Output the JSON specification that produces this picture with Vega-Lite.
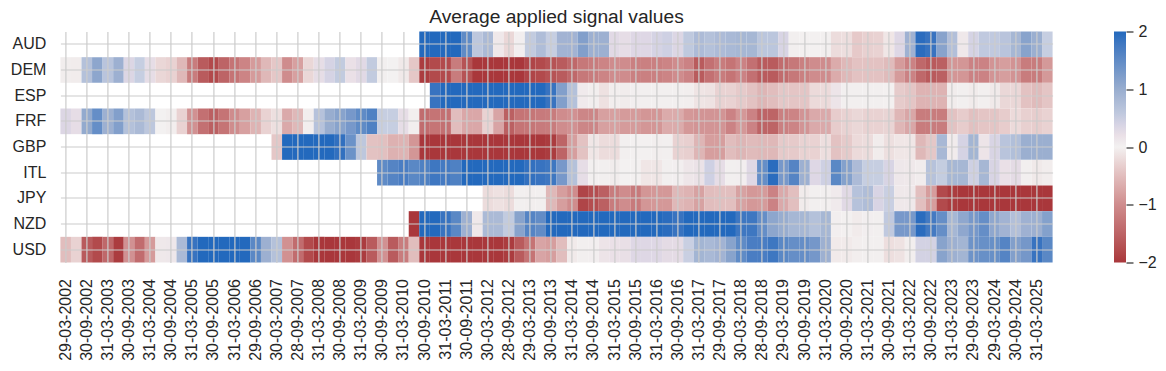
{
"$schema":"https://vega.github.io/schema/vega-lite/v6.json",
"width":992.2,"height":231,"autosize":"none",
"padding":{"left":60.4,"top":31.5,"right":113.4,"bottom":108.5},
"background":"white",
"config":{"view":{"stroke":null},"font":"Liberation Sans","legend":{"gradientVerticalMaxLength":400}},
"title":{"text":"Average applied signal values","fontSize":19.2,"fontWeight":"normal","color":"#262626","font":"Liberation Sans","anchor":"middle","frame":"group","baseline":"alphabetic","offset":7.5,"dy":26},
"data":{"values":[
{"d":"30-09-2010","c":"AUD","v":2},{"d":"31-12-2010","c":"AUD","v":2},{"d":"31-03-2011","c":"AUD","v":2},{"d":"30-06-2011","c":"AUD","v":2},{"d":"30-09-2011","c":"AUD","v":1.5},{"d":"30-12-2011","c":"AUD","v":0.6},{"d":"30-03-2012","c":"AUD","v":0.8},{"d":"29-06-2012","c":"AUD","v":0.1},{"d":"28-09-2012","c":"AUD","v":-0.25},{"d":"31-12-2012","c":"AUD","v":0.03},{"d":"29-03-2013","c":"AUD","v":0.55},{"d":"28-06-2013","c":"AUD","v":0.75},{"d":"30-09-2013","c":"AUD","v":0.5},{"d":"31-12-2013","c":"AUD","v":0.9},{"d":"31-03-2014","c":"AUD","v":0.9},{"d":"30-06-2014","c":"AUD","v":1.2},{"d":"30-09-2014","c":"AUD","v":0.95},{"d":"31-12-2014","c":"AUD","v":0.95},{"d":"31-03-2015","c":"AUD","v":0.3},{"d":"30-06-2015","c":"AUD","v":0.25},{"d":"30-09-2015","c":"AUD","v":0.33},{"d":"31-12-2015","c":"AUD","v":0.33},{"d":"31-03-2016","c":"AUD","v":0.4},{"d":"30-06-2016","c":"AUD","v":0.45},{"d":"30-09-2016","c":"AUD","v":0.35},{"d":"30-12-2016","c":"AUD","v":0.58},{"d":"31-03-2017","c":"AUD","v":0.78},{"d":"30-06-2017","c":"AUD","v":0.7},{"d":"29-09-2017","c":"AUD","v":0.78},{"d":"29-12-2017","c":"AUD","v":0.82},{"d":"30-03-2018","c":"AUD","v":0.85},{"d":"29-06-2018","c":"AUD","v":0.85},{"d":"28-09-2018","c":"AUD","v":0.62},{"d":"31-12-2018","c":"AUD","v":0.62},{"d":"29-03-2019","c":"AUD","v":0.38},{"d":"28-06-2019","c":"AUD","v":0.02},{"d":"30-09-2019","c":"AUD","v":-0.01},{"d":"31-12-2019","c":"AUD","v":-0.01},{"d":"31-03-2020","c":"AUD","v":-0.02},{"d":"30-06-2020","c":"AUD","v":-0.2},{"d":"30-09-2020","c":"AUD","v":-0.18},{"d":"31-12-2020","c":"AUD","v":-0.38},{"d":"31-03-2021","c":"AUD","v":-0.32},{"d":"30-06-2021","c":"AUD","v":-0.3},{"d":"30-09-2021","c":"AUD","v":-0.1},{"d":"31-12-2021","c":"AUD","v":0.33},{"d":"31-03-2022","c":"AUD","v":0.93},{"d":"30-06-2022","c":"AUD","v":1.95},{"d":"30-09-2022","c":"AUD","v":1.85},{"d":"30-12-2022","c":"AUD","v":1.15},{"d":"31-03-2023","c":"AUD","v":0.72},{"d":"30-06-2023","c":"AUD","v":0.1},{"d":"29-09-2023","c":"AUD","v":0.4},{"d":"29-12-2023","c":"AUD","v":0.57},{"d":"29-03-2024","c":"AUD","v":0.57},{"d":"28-06-2024","c":"AUD","v":0.65},{"d":"30-09-2024","c":"AUD","v":0.85},{"d":"31-12-2024","c":"AUD","v":1.15},{"d":"31-03-2025","c":"AUD","v":0.97},{"d":"30-06-2025","c":"AUD","v":0.5},
{"d":"29-03-2002","c":"DEM","v":0.05},{"d":"28-06-2002","c":"DEM","v":-0.05},{"d":"30-09-2002","c":"DEM","v":0.7},{"d":"31-12-2002","c":"DEM","v":1.1},{"d":"31-03-2003","c":"DEM","v":0.65},{"d":"30-06-2003","c":"DEM","v":0.95},{"d":"30-09-2003","c":"DEM","v":0.35},{"d":"31-12-2003","c":"DEM","v":0.5},{"d":"31-03-2004","c":"DEM","v":0.25},{"d":"30-06-2004","c":"DEM","v":-0.25},{"d":"30-09-2004","c":"DEM","v":-0.3},{"d":"31-12-2004","c":"DEM","v":-0.55},{"d":"31-03-2005","c":"DEM","v":-1.2},{"d":"30-06-2005","c":"DEM","v":-1.6},{"d":"30-09-2005","c":"DEM","v":-1.8},{"d":"30-12-2005","c":"DEM","v":-1.5},{"d":"31-03-2006","c":"DEM","v":-1.3},{"d":"30-06-2006","c":"DEM","v":-1.1},{"d":"29-09-2006","c":"DEM","v":-0.85},{"d":"29-12-2006","c":"DEM","v":-0.55},{"d":"30-03-2007","c":"DEM","v":-0.4},{"d":"29-06-2007","c":"DEM","v":-1.0},{"d":"28-09-2007","c":"DEM","v":-0.8},{"d":"31-12-2007","c":"DEM","v":-0.25},{"d":"31-03-2008","c":"DEM","v":0.25},{"d":"30-06-2008","c":"DEM","v":0.4},{"d":"30-09-2008","c":"DEM","v":0.55},{"d":"31-12-2008","c":"DEM","v":0.2},{"d":"31-03-2009","c":"DEM","v":0.3},{"d":"30-06-2009","c":"DEM","v":0.55},{"d":"30-09-2009","c":"DEM","v":0.02},{"d":"31-12-2009","c":"DEM","v":0},{"d":"31-03-2010","c":"DEM","v":-0.08},{"d":"30-06-2010","c":"DEM","v":-0.4},{"d":"30-09-2010","c":"DEM","v":-1.95},{"d":"31-12-2010","c":"DEM","v":-1.8},{"d":"31-03-2011","c":"DEM","v":-1.8},{"d":"30-06-2011","c":"DEM","v":-1.2},{"d":"30-09-2011","c":"DEM","v":-1.7},{"d":"30-12-2011","c":"DEM","v":-2},{"d":"30-03-2012","c":"DEM","v":-2},{"d":"29-06-2012","c":"DEM","v":-2},{"d":"28-09-2012","c":"DEM","v":-2},{"d":"31-12-2012","c":"DEM","v":-2},{"d":"29-03-2013","c":"DEM","v":-1.85},{"d":"28-06-2013","c":"DEM","v":-1.8},{"d":"30-09-2013","c":"DEM","v":-1.7},{"d":"31-12-2013","c":"DEM","v":-1.6},{"d":"31-03-2014","c":"DEM","v":-1.45},{"d":"30-06-2014","c":"DEM","v":-1.25},{"d":"30-09-2014","c":"DEM","v":-1.2},{"d":"31-12-2014","c":"DEM","v":-1.1},{"d":"31-03-2015","c":"DEM","v":-1.0},{"d":"30-06-2015","c":"DEM","v":-1.0},{"d":"30-09-2015","c":"DEM","v":-1.15},{"d":"31-12-2015","c":"DEM","v":-1.15},{"d":"31-03-2016","c":"DEM","v":-1.15},{"d":"30-06-2016","c":"DEM","v":-1.1},{"d":"30-09-2016","c":"DEM","v":-1.0},{"d":"30-12-2016","c":"DEM","v":-1.12},{"d":"31-03-2017","c":"DEM","v":-1.6},{"d":"30-06-2017","c":"DEM","v":-1.35},{"d":"29-09-2017","c":"DEM","v":-1.2},{"d":"29-12-2017","c":"DEM","v":-1.3},{"d":"30-03-2018","c":"DEM","v":-1.12},{"d":"29-06-2018","c":"DEM","v":-1.35},{"d":"28-09-2018","c":"DEM","v":-1.6},{"d":"31-12-2018","c":"DEM","v":-1.6},{"d":"29-03-2019","c":"DEM","v":-1.4},{"d":"28-06-2019","c":"DEM","v":-1.25},{"d":"30-09-2019","c":"DEM","v":-1.15},{"d":"31-12-2019","c":"DEM","v":-1.0},{"d":"31-03-2020","c":"DEM","v":-1.0},{"d":"30-06-2020","c":"DEM","v":-0.68},{"d":"30-09-2020","c":"DEM","v":-0.55},{"d":"31-12-2020","c":"DEM","v":-0.45},{"d":"31-03-2021","c":"DEM","v":-0.45},{"d":"30-06-2021","c":"DEM","v":-0.45},{"d":"30-09-2021","c":"DEM","v":-0.52},{"d":"31-12-2021","c":"DEM","v":-0.85},{"d":"31-03-2022","c":"DEM","v":-1.12},{"d":"30-06-2022","c":"DEM","v":-1.45},{"d":"30-09-2022","c":"DEM","v":-1.62},{"d":"30-12-2022","c":"DEM","v":-1.55},{"d":"31-03-2023","c":"DEM","v":-0.9},{"d":"30-06-2023","c":"DEM","v":-0.9},{"d":"29-09-2023","c":"DEM","v":-1.12},{"d":"29-12-2023","c":"DEM","v":-1.12},{"d":"29-03-2024","c":"DEM","v":-0.92},{"d":"28-06-2024","c":"DEM","v":-0.82},{"d":"30-09-2024","c":"DEM","v":-0.93},{"d":"31-12-2024","c":"DEM","v":-1.2},{"d":"31-03-2025","c":"DEM","v":-1.2},{"d":"30-06-2025","c":"DEM","v":-0.87},
{"d":"31-12-2010","c":"ESP","v":1.85},{"d":"31-03-2011","c":"ESP","v":2},{"d":"30-06-2011","c":"ESP","v":2},{"d":"30-09-2011","c":"ESP","v":2},{"d":"30-12-2011","c":"ESP","v":2},{"d":"30-03-2012","c":"ESP","v":2},{"d":"29-06-2012","c":"ESP","v":2},{"d":"28-09-2012","c":"ESP","v":2},{"d":"31-12-2012","c":"ESP","v":2},{"d":"29-03-2013","c":"ESP","v":2},{"d":"28-06-2013","c":"ESP","v":2},{"d":"30-09-2013","c":"ESP","v":1.85},{"d":"31-12-2013","c":"ESP","v":1.2},{"d":"31-03-2014","c":"ESP","v":0.7},{"d":"30-06-2014","c":"ESP","v":0.08},{"d":"30-09-2014","c":"ESP","v":-0.03},{"d":"31-12-2014","c":"ESP","v":-0.15},{"d":"31-03-2015","c":"ESP","v":-0.03},{"d":"30-06-2015","c":"ESP","v":-0.05},{"d":"30-09-2015","c":"ESP","v":0.03},{"d":"31-12-2015","c":"ESP","v":-0.02},{"d":"31-03-2016","c":"ESP","v":-0.02},{"d":"30-06-2016","c":"ESP","v":-0.02},{"d":"30-09-2016","c":"ESP","v":-0.02},{"d":"30-12-2016","c":"ESP","v":-0.03},{"d":"31-03-2017","c":"ESP","v":-0.12},{"d":"30-06-2017","c":"ESP","v":-0.14},{"d":"29-09-2017","c":"ESP","v":-0.3},{"d":"29-12-2017","c":"ESP","v":-0.3},{"d":"30-03-2018","c":"ESP","v":-0.37},{"d":"29-06-2018","c":"ESP","v":-0.45},{"d":"28-09-2018","c":"ESP","v":-0.58},{"d":"31-12-2018","c":"ESP","v":-0.5},{"d":"29-03-2019","c":"ESP","v":-0.4},{"d":"28-06-2019","c":"ESP","v":-0.42},{"d":"30-09-2019","c":"ESP","v":-0.42},{"d":"31-12-2019","c":"ESP","v":-0.22},{"d":"31-03-2020","c":"ESP","v":-0.22},{"d":"30-06-2020","c":"ESP","v":0.15},{"d":"30-09-2020","c":"ESP","v":0.02},{"d":"31-12-2020","c":"ESP","v":0.02},{"d":"31-03-2021","c":"ESP","v":-0.02},{"d":"30-06-2021","c":"ESP","v":-0.02},{"d":"30-09-2021","c":"ESP","v":-0.01},{"d":"31-12-2021","c":"ESP","v":-0.36},{"d":"31-03-2022","c":"ESP","v":-0.42},{"d":"30-06-2022","c":"ESP","v":-0.6},{"d":"30-09-2022","c":"ESP","v":-0.6},{"d":"30-12-2022","c":"ESP","v":-0.6},{"d":"31-03-2023","c":"ESP","v":-0.05},{"d":"30-06-2023","c":"ESP","v":-0.02},{"d":"29-09-2023","c":"ESP","v":-0.06},{"d":"29-12-2023","c":"ESP","v":-0.02},{"d":"29-03-2024","c":"ESP","v":-0.08},{"d":"28-06-2024","c":"ESP","v":-0.25},{"d":"30-09-2024","c":"ESP","v":-0.25},{"d":"31-12-2024","c":"ESP","v":-0.45},{"d":"31-03-2025","c":"ESP","v":-0.52},{"d":"30-06-2025","c":"ESP","v":-0.42},
{"d":"29-03-2002","c":"FRF","v":0.35},{"d":"28-06-2002","c":"FRF","v":0.25},{"d":"30-09-2002","c":"FRF","v":1.05},{"d":"31-12-2002","c":"FRF","v":1.45},{"d":"31-03-2003","c":"FRF","v":0.95},{"d":"30-06-2003","c":"FRF","v":1.2},{"d":"30-09-2003","c":"FRF","v":0.7},{"d":"31-12-2003","c":"FRF","v":0.8},{"d":"31-03-2004","c":"FRF","v":0.6},{"d":"30-06-2004","c":"FRF","v":0},{"d":"30-09-2004","c":"FRF","v":-0.03},{"d":"31-12-2004","c":"FRF","v":-0.3},{"d":"31-03-2005","c":"FRF","v":-0.95},{"d":"30-06-2005","c":"FRF","v":-1.35},{"d":"30-09-2005","c":"FRF","v":-1.55},{"d":"30-12-2005","c":"FRF","v":-1.3},{"d":"31-03-2006","c":"FRF","v":-1.0},{"d":"30-06-2006","c":"FRF","v":-0.8},{"d":"29-09-2006","c":"FRF","v":-0.6},{"d":"29-12-2006","c":"FRF","v":-0.3},{"d":"30-03-2007","c":"FRF","v":-0.17},{"d":"29-06-2007","c":"FRF","v":-0.7},{"d":"28-09-2007","c":"FRF","v":-0.55},{"d":"31-12-2007","c":"FRF","v":-0.03},{"d":"31-03-2008","c":"FRF","v":0.68},{"d":"30-06-2008","c":"FRF","v":1.0},{"d":"30-09-2008","c":"FRF","v":1.15},{"d":"31-12-2008","c":"FRF","v":1.3},{"d":"31-03-2009","c":"FRF","v":1.5},{"d":"30-06-2009","c":"FRF","v":1.65},{"d":"30-09-2009","c":"FRF","v":0.5},{"d":"31-12-2009","c":"FRF","v":0.5},{"d":"31-03-2010","c":"FRF","v":0.25},{"d":"30-06-2010","c":"FRF","v":-0.03},{"d":"30-09-2010","c":"FRF","v":-1.4},{"d":"31-12-2010","c":"FRF","v":-1.3},{"d":"31-03-2011","c":"FRF","v":-1.35},{"d":"30-06-2011","c":"FRF","v":-0.5},{"d":"30-09-2011","c":"FRF","v":-0.72},{"d":"30-12-2011","c":"FRF","v":-0.72},{"d":"30-03-2012","c":"FRF","v":-0.3},{"d":"29-06-2012","c":"FRF","v":-0.75},{"d":"28-09-2012","c":"FRF","v":-1.55},{"d":"31-12-2012","c":"FRF","v":-1.3},{"d":"29-03-2013","c":"FRF","v":-1.28},{"d":"28-06-2013","c":"FRF","v":-1.22},{"d":"30-09-2013","c":"FRF","v":-1.2},{"d":"31-12-2013","c":"FRF","v":-1.0},{"d":"31-03-2014","c":"FRF","v":-0.95},{"d":"30-06-2014","c":"FRF","v":-1.08},{"d":"30-09-2014","c":"FRF","v":-1.08},{"d":"31-12-2014","c":"FRF","v":-0.8},{"d":"31-03-2015","c":"FRF","v":-0.8},{"d":"30-06-2015","c":"FRF","v":-0.85},{"d":"30-09-2015","c":"FRF","v":-0.85},{"d":"31-12-2015","c":"FRF","v":-0.9},{"d":"31-03-2016","c":"FRF","v":-0.9},{"d":"30-06-2016","c":"FRF","v":-0.68},{"d":"30-09-2016","c":"FRF","v":-0.68},{"d":"30-12-2016","c":"FRF","v":-0.88},{"d":"31-03-2017","c":"FRF","v":-0.92},{"d":"30-06-2017","c":"FRF","v":-0.92},{"d":"29-09-2017","c":"FRF","v":-0.92},{"d":"29-12-2017","c":"FRF","v":-1.12},{"d":"30-03-2018","c":"FRF","v":-0.88},{"d":"29-06-2018","c":"FRF","v":-1.12},{"d":"28-09-2018","c":"FRF","v":-1.5},{"d":"31-12-2018","c":"FRF","v":-1.5},{"d":"29-03-2019","c":"FRF","v":-1.15},{"d":"28-06-2019","c":"FRF","v":-1.1},{"d":"30-09-2019","c":"FRF","v":-0.92},{"d":"31-12-2019","c":"FRF","v":-0.7},{"d":"31-03-2020","c":"FRF","v":-0.7},{"d":"30-06-2020","c":"FRF","v":-0.35},{"d":"30-09-2020","c":"FRF","v":-0.3},{"d":"31-12-2020","c":"FRF","v":-0.25},{"d":"31-03-2021","c":"FRF","v":-0.3},{"d":"30-06-2021","c":"FRF","v":-0.3},{"d":"30-09-2021","c":"FRF","v":-0.28},{"d":"31-12-2021","c":"FRF","v":-0.57},{"d":"31-03-2022","c":"FRF","v":-0.73},{"d":"30-06-2022","c":"FRF","v":-1.2},{"d":"30-09-2022","c":"FRF","v":-1.2},{"d":"30-12-2022","c":"FRF","v":-1.2},{"d":"31-03-2023","c":"FRF","v":-0.45},{"d":"30-06-2023","c":"FRF","v":-0.35},{"d":"29-09-2023","c":"FRF","v":-0.47},{"d":"29-12-2023","c":"FRF","v":-0.42},{"d":"29-03-2024","c":"FRF","v":-0.42},{"d":"28-06-2024","c":"FRF","v":-0.35},{"d":"30-09-2024","c":"FRF","v":-0.22},{"d":"31-12-2024","c":"FRF","v":-0.32},{"d":"31-03-2025","c":"FRF","v":-0.34},{"d":"30-06-2025","c":"FRF","v":-0.3},
{"d":"30-03-2007","c":"GBP","v":-0.4},{"d":"29-06-2007","c":"GBP","v":2},{"d":"28-09-2007","c":"GBP","v":2},{"d":"31-12-2007","c":"GBP","v":2},{"d":"31-03-2008","c":"GBP","v":2},{"d":"30-06-2008","c":"GBP","v":2},{"d":"30-09-2008","c":"GBP","v":1.9},{"d":"31-12-2008","c":"GBP","v":1.4},{"d":"31-03-2009","c":"GBP","v":0.6},{"d":"30-06-2009","c":"GBP","v":-0.45},{"d":"30-09-2009","c":"GBP","v":-0.47},{"d":"31-12-2009","c":"GBP","v":-0.62},{"d":"31-03-2010","c":"GBP","v":-0.6},{"d":"30-06-2010","c":"GBP","v":-0.9},{"d":"30-09-2010","c":"GBP","v":-2},{"d":"31-12-2010","c":"GBP","v":-2},{"d":"31-03-2011","c":"GBP","v":-2},{"d":"30-06-2011","c":"GBP","v":-2},{"d":"30-09-2011","c":"GBP","v":-2},{"d":"30-12-2011","c":"GBP","v":-2},{"d":"30-03-2012","c":"GBP","v":-2},{"d":"29-06-2012","c":"GBP","v":-2},{"d":"28-09-2012","c":"GBP","v":-2},{"d":"31-12-2012","c":"GBP","v":-2},{"d":"29-03-2013","c":"GBP","v":-2},{"d":"28-06-2013","c":"GBP","v":-2},{"d":"30-09-2013","c":"GBP","v":-1.95},{"d":"31-12-2013","c":"GBP","v":-1.5},{"d":"31-03-2014","c":"GBP","v":-0.82},{"d":"30-06-2014","c":"GBP","v":-0.45},{"d":"30-09-2014","c":"GBP","v":-0.1},{"d":"31-12-2014","c":"GBP","v":-0.2},{"d":"31-03-2015","c":"GBP","v":-0.2},{"d":"30-06-2015","c":"GBP","v":-0.02},{"d":"30-09-2015","c":"GBP","v":0.01},{"d":"31-12-2015","c":"GBP","v":0.01},{"d":"31-03-2016","c":"GBP","v":-0.03},{"d":"30-06-2016","c":"GBP","v":-0.02},{"d":"30-09-2016","c":"GBP","v":-0.3},{"d":"30-12-2016","c":"GBP","v":-0.33},{"d":"31-03-2017","c":"GBP","v":-0.58},{"d":"30-06-2017","c":"GBP","v":-0.82},{"d":"29-09-2017","c":"GBP","v":-0.82},{"d":"29-12-2017","c":"GBP","v":-0.5},{"d":"30-03-2018","c":"GBP","v":-0.58},{"d":"29-06-2018","c":"GBP","v":-0.52},{"d":"28-09-2018","c":"GBP","v":-0.55},{"d":"31-12-2018","c":"GBP","v":-0.55},{"d":"29-03-2019","c":"GBP","v":-0.37},{"d":"28-06-2019","c":"GBP","v":-0.37},{"d":"30-09-2019","c":"GBP","v":-0.3},{"d":"31-12-2019","c":"GBP","v":-0.3},{"d":"31-03-2020","c":"GBP","v":-0.18},{"d":"30-06-2020","c":"GBP","v":-0.45},{"d":"30-09-2020","c":"GBP","v":-0.37},{"d":"31-12-2020","c":"GBP","v":-0.22},{"d":"31-03-2021","c":"GBP","v":-0.2},{"d":"30-06-2021","c":"GBP","v":-0.05},{"d":"30-09-2021","c":"GBP","v":-0.17},{"d":"31-12-2021","c":"GBP","v":-0.1},{"d":"31-03-2022","c":"GBP","v":-0.1},{"d":"30-06-2022","c":"GBP","v":-0.55},{"d":"30-09-2022","c":"GBP","v":-0.4},{"d":"30-12-2022","c":"GBP","v":0.83},{"d":"31-03-2023","c":"GBP","v":0.07},{"d":"30-06-2023","c":"GBP","v":0.4},{"d":"29-09-2023","c":"GBP","v":0.88},{"d":"29-12-2023","c":"GBP","v":0.15},{"d":"29-03-2024","c":"GBP","v":0.38},{"d":"28-06-2024","c":"GBP","v":0.65},{"d":"30-09-2024","c":"GBP","v":0.73},{"d":"31-12-2024","c":"GBP","v":0.97},{"d":"31-03-2025","c":"GBP","v":0.97},{"d":"30-06-2025","c":"GBP","v":0.97},
{"d":"30-09-2009","c":"ITL","v":1.5},{"d":"31-12-2009","c":"ITL","v":1.6},{"d":"31-03-2010","c":"ITL","v":1.7},{"d":"30-06-2010","c":"ITL","v":1.55},{"d":"30-09-2010","c":"ITL","v":1.65},{"d":"31-12-2010","c":"ITL","v":1.8},{"d":"31-03-2011","c":"ITL","v":1.75},{"d":"30-06-2011","c":"ITL","v":1.65},{"d":"30-09-2011","c":"ITL","v":2},{"d":"30-12-2011","c":"ITL","v":2},{"d":"30-03-2012","c":"ITL","v":2},{"d":"29-06-2012","c":"ITL","v":2},{"d":"28-09-2012","c":"ITL","v":2},{"d":"31-12-2012","c":"ITL","v":2},{"d":"29-03-2013","c":"ITL","v":1.9},{"d":"28-06-2013","c":"ITL","v":1.85},{"d":"30-09-2013","c":"ITL","v":1.8},{"d":"31-12-2013","c":"ITL","v":1.3},{"d":"31-03-2014","c":"ITL","v":0.7},{"d":"30-06-2014","c":"ITL","v":0.25},{"d":"30-09-2014","c":"ITL","v":-0.02},{"d":"31-12-2014","c":"ITL","v":-0.02},{"d":"31-03-2015","c":"ITL","v":-0.05},{"d":"30-06-2015","c":"ITL","v":0},{"d":"30-09-2015","c":"ITL","v":-0.01},{"d":"31-12-2015","c":"ITL","v":-0.1},{"d":"31-03-2016","c":"ITL","v":-0.1},{"d":"30-06-2016","c":"ITL","v":-0.02},{"d":"30-09-2016","c":"ITL","v":0.03},{"d":"30-12-2016","c":"ITL","v":0.13},{"d":"31-03-2017","c":"ITL","v":0.18},{"d":"30-06-2017","c":"ITL","v":0.45},{"d":"29-09-2017","c":"ITL","v":0.25},{"d":"29-12-2017","c":"ITL","v":0.02},{"d":"30-03-2018","c":"ITL","v":0.03},{"d":"29-06-2018","c":"ITL","v":0.32},{"d":"28-09-2018","c":"ITL","v":1.45},{"d":"31-12-2018","c":"ITL","v":1.95},{"d":"29-03-2019","c":"ITL","v":1.3},{"d":"28-06-2019","c":"ITL","v":1.6},{"d":"30-09-2019","c":"ITL","v":0.95},{"d":"31-12-2019","c":"ITL","v":0.33},{"d":"31-03-2020","c":"ITL","v":0.45},{"d":"30-06-2020","c":"ITL","v":1.55},{"d":"30-09-2020","c":"ITL","v":1.18},{"d":"31-12-2020","c":"ITL","v":0.78},{"d":"31-03-2021","c":"ITL","v":0.5},{"d":"30-06-2021","c":"ITL","v":0.5},{"d":"30-09-2021","c":"ITL","v":0.38},{"d":"31-12-2021","c":"ITL","v":0.12},{"d":"31-03-2022","c":"ITL","v":0.1},{"d":"30-06-2022","c":"ITL","v":0.06},{"d":"30-09-2022","c":"ITL","v":0.68},{"d":"30-12-2022","c":"ITL","v":0.52},{"d":"31-03-2023","c":"ITL","v":0.85},{"d":"30-06-2023","c":"ITL","v":0.85},{"d":"29-09-2023","c":"ITL","v":0.45},{"d":"29-12-2023","c":"ITL","v":0.85},{"d":"29-03-2024","c":"ITL","v":0.38},{"d":"28-06-2024","c":"ITL","v":0.2},{"d":"30-09-2024","c":"ITL","v":0.27},{"d":"31-12-2024","c":"ITL","v":-0.02},{"d":"31-03-2025","c":"ITL","v":-0.08},{"d":"30-06-2025","c":"ITL","v":-0.04},
{"d":"30-03-2012","c":"JPY","v":-0.2},{"d":"29-06-2012","c":"JPY","v":-0.15},{"d":"28-09-2012","c":"JPY","v":-0.2},{"d":"31-12-2012","c":"JPY","v":-0.02},{"d":"29-03-2013","c":"JPY","v":-0.03},{"d":"28-06-2013","c":"JPY","v":0.02},{"d":"30-09-2013","c":"JPY","v":-0.55},{"d":"31-12-2013","c":"JPY","v":-0.82},{"d":"31-03-2014","c":"JPY","v":-1.0},{"d":"30-06-2014","c":"JPY","v":-1.85},{"d":"30-09-2014","c":"JPY","v":-1.75},{"d":"31-12-2014","c":"JPY","v":-1.55},{"d":"31-03-2015","c":"JPY","v":-1.2},{"d":"30-06-2015","c":"JPY","v":-1.0},{"d":"30-09-2015","c":"JPY","v":-1.22},{"d":"31-12-2015","c":"JPY","v":-0.9},{"d":"31-03-2016","c":"JPY","v":-0.88},{"d":"30-06-2016","c":"JPY","v":-0.88},{"d":"30-09-2016","c":"JPY","v":-0.55},{"d":"30-12-2016","c":"JPY","v":-0.6},{"d":"31-03-2017","c":"JPY","v":-0.78},{"d":"30-06-2017","c":"JPY","v":-0.5},{"d":"29-09-2017","c":"JPY","v":-0.48},{"d":"29-12-2017","c":"JPY","v":-0.48},{"d":"30-03-2018","c":"JPY","v":-0.78},{"d":"29-06-2018","c":"JPY","v":-0.88},{"d":"28-09-2018","c":"JPY","v":-0.85},{"d":"31-12-2018","c":"JPY","v":-1.12},{"d":"29-03-2019","c":"JPY","v":-0.7},{"d":"28-06-2019","c":"JPY","v":-0.48},{"d":"30-09-2019","c":"JPY","v":-0.06},{"d":"31-12-2019","c":"JPY","v":-0.02},{"d":"31-03-2020","c":"JPY","v":-0.02},{"d":"30-06-2020","c":"JPY","v":0.08},{"d":"30-09-2020","c":"JPY","v":0.3},{"d":"31-12-2020","c":"JPY","v":0.68},{"d":"31-03-2021","c":"JPY","v":0.75},{"d":"30-06-2021","c":"JPY","v":0.38},{"d":"30-09-2021","c":"JPY","v":0.48},{"d":"31-12-2021","c":"JPY","v":0.1},{"d":"31-03-2022","c":"JPY","v":0.1},{"d":"30-06-2022","c":"JPY","v":-0.48},{"d":"30-09-2022","c":"JPY","v":-0.83},{"d":"30-12-2022","c":"JPY","v":-1.8},{"d":"31-03-2023","c":"JPY","v":-1.95},{"d":"30-06-2023","c":"JPY","v":-2},{"d":"29-09-2023","c":"JPY","v":-2},{"d":"29-12-2023","c":"JPY","v":-2},{"d":"29-03-2024","c":"JPY","v":-2},{"d":"28-06-2024","c":"JPY","v":-2},{"d":"30-09-2024","c":"JPY","v":-2},{"d":"31-12-2024","c":"JPY","v":-2},{"d":"31-03-2025","c":"JPY","v":-2},{"d":"30-06-2025","c":"JPY","v":-2},
{"d":"30-06-2010","c":"NZD","v":-2},{"d":"30-09-2010","c":"NZD","v":2},{"d":"31-12-2010","c":"NZD","v":2},{"d":"31-03-2011","c":"NZD","v":1.85},{"d":"30-06-2011","c":"NZD","v":1.55},{"d":"30-09-2011","c":"NZD","v":0.95},{"d":"30-12-2011","c":"NZD","v":0.1},{"d":"30-03-2012","c":"NZD","v":0.8},{"d":"29-06-2012","c":"NZD","v":0.8},{"d":"28-09-2012","c":"NZD","v":0.55},{"d":"31-12-2012","c":"NZD","v":1.15},{"d":"29-03-2013","c":"NZD","v":1.6},{"d":"28-06-2013","c":"NZD","v":1.48},{"d":"30-09-2013","c":"NZD","v":2},{"d":"31-12-2013","c":"NZD","v":2},{"d":"31-03-2014","c":"NZD","v":2},{"d":"30-06-2014","c":"NZD","v":2},{"d":"30-09-2014","c":"NZD","v":2},{"d":"31-12-2014","c":"NZD","v":2},{"d":"31-03-2015","c":"NZD","v":2},{"d":"30-06-2015","c":"NZD","v":2},{"d":"30-09-2015","c":"NZD","v":2},{"d":"31-12-2015","c":"NZD","v":2},{"d":"31-03-2016","c":"NZD","v":2},{"d":"30-06-2016","c":"NZD","v":1.95},{"d":"30-09-2016","c":"NZD","v":1.85},{"d":"30-12-2016","c":"NZD","v":2},{"d":"31-03-2017","c":"NZD","v":2},{"d":"30-06-2017","c":"NZD","v":2},{"d":"29-09-2017","c":"NZD","v":2},{"d":"29-12-2017","c":"NZD","v":2},{"d":"30-03-2018","c":"NZD","v":1.8},{"d":"29-06-2018","c":"NZD","v":1.8},{"d":"28-09-2018","c":"NZD","v":1.45},{"d":"31-12-2018","c":"NZD","v":1.1},{"d":"29-03-2019","c":"NZD","v":1.0},{"d":"28-06-2019","c":"NZD","v":0.85},{"d":"30-09-2019","c":"NZD","v":0.85},{"d":"31-12-2019","c":"NZD","v":0.7},{"d":"31-03-2020","c":"NZD","v":0.85},{"d":"30-06-2020","c":"NZD","v":0.03},{"d":"30-09-2020","c":"NZD","v":-0.01},{"d":"31-12-2020","c":"NZD","v":-0.06},{"d":"31-03-2021","c":"NZD","v":0.03},{"d":"30-06-2021","c":"NZD","v":0.02},{"d":"30-09-2021","c":"NZD","v":0.57},{"d":"31-12-2021","c":"NZD","v":1.3},{"d":"31-03-2022","c":"NZD","v":1.3},{"d":"30-06-2022","c":"NZD","v":1.95},{"d":"30-09-2022","c":"NZD","v":1.75},{"d":"30-12-2022","c":"NZD","v":1.45},{"d":"31-03-2023","c":"NZD","v":0.85},{"d":"30-06-2023","c":"NZD","v":1.08},{"d":"29-09-2023","c":"NZD","v":1.3},{"d":"29-12-2023","c":"NZD","v":1.45},{"d":"29-03-2024","c":"NZD","v":1.08},{"d":"28-06-2024","c":"NZD","v":0.9},{"d":"30-09-2024","c":"NZD","v":0.72},{"d":"31-12-2024","c":"NZD","v":0.93},{"d":"31-03-2025","c":"NZD","v":0.95},{"d":"30-06-2025","c":"NZD","v":1.18},
{"d":"29-03-2002","c":"USD","v":-0.5},{"d":"28-06-2002","c":"USD","v":-0.3},{"d":"30-09-2002","c":"USD","v":-1.6},{"d":"31-12-2002","c":"USD","v":-1.8},{"d":"31-03-2003","c":"USD","v":-1.45},{"d":"30-06-2003","c":"USD","v":-1.95},{"d":"30-09-2003","c":"USD","v":-0.95},{"d":"31-12-2003","c":"USD","v":-1.4},{"d":"31-03-2004","c":"USD","v":-0.85},{"d":"30-06-2004","c":"USD","v":0.1},{"d":"30-09-2004","c":"USD","v":0.12},{"d":"31-12-2004","c":"USD","v":0.8},{"d":"31-03-2005","c":"USD","v":1.85},{"d":"30-06-2005","c":"USD","v":2},{"d":"30-09-2005","c":"USD","v":2},{"d":"30-12-2005","c":"USD","v":2},{"d":"31-03-2006","c":"USD","v":2},{"d":"30-06-2006","c":"USD","v":2},{"d":"29-09-2006","c":"USD","v":1.55},{"d":"29-12-2006","c":"USD","v":0.95},{"d":"30-03-2007","c":"USD","v":0.7},{"d":"29-06-2007","c":"USD","v":-0.95},{"d":"28-09-2007","c":"USD","v":-1.4},{"d":"31-12-2007","c":"USD","v":-1.8},{"d":"31-03-2008","c":"USD","v":-2},{"d":"30-06-2008","c":"USD","v":-2},{"d":"30-09-2008","c":"USD","v":-2},{"d":"31-12-2008","c":"USD","v":-2},{"d":"31-03-2009","c":"USD","v":-1.95},{"d":"30-06-2009","c":"USD","v":-1.6},{"d":"30-09-2009","c":"USD","v":-0.95},{"d":"31-12-2009","c":"USD","v":-1.6},{"d":"31-03-2010","c":"USD","v":-1.2},{"d":"30-06-2010","c":"USD","v":-0.5},{"d":"30-09-2010","c":"USD","v":-2},{"d":"31-12-2010","c":"USD","v":-2},{"d":"31-03-2011","c":"USD","v":-2},{"d":"30-06-2011","c":"USD","v":-2},{"d":"30-09-2011","c":"USD","v":-2},{"d":"30-12-2011","c":"USD","v":-2},{"d":"30-03-2012","c":"USD","v":-2},{"d":"29-06-2012","c":"USD","v":-2},{"d":"28-09-2012","c":"USD","v":-1.95},{"d":"31-12-2012","c":"USD","v":-1.6},{"d":"29-03-2013","c":"USD","v":-1.3},{"d":"28-06-2013","c":"USD","v":-0.75},{"d":"30-09-2013","c":"USD","v":-0.82},{"d":"31-12-2013","c":"USD","v":-0.5},{"d":"31-03-2014","c":"USD","v":-0.07},{"d":"30-06-2014","c":"USD","v":-0.02},{"d":"30-09-2014","c":"USD","v":0.03},{"d":"31-12-2014","c":"USD","v":0.15},{"d":"31-03-2015","c":"USD","v":0.2},{"d":"30-06-2015","c":"USD","v":0.22},{"d":"30-09-2015","c":"USD","v":0.33},{"d":"31-12-2015","c":"USD","v":0.33},{"d":"31-03-2016","c":"USD","v":0.33},{"d":"30-06-2016","c":"USD","v":0.27},{"d":"30-09-2016","c":"USD","v":0.27},{"d":"30-12-2016","c":"USD","v":0.48},{"d":"31-03-2017","c":"USD","v":0.88},{"d":"30-06-2017","c":"USD","v":0.82},{"d":"29-09-2017","c":"USD","v":0.9},{"d":"29-12-2017","c":"USD","v":1.15},{"d":"30-03-2018","c":"USD","v":1.5},{"d":"29-06-2018","c":"USD","v":1.7},{"d":"28-09-2018","c":"USD","v":1.7},{"d":"31-12-2018","c":"USD","v":1.8},{"d":"29-03-2019","c":"USD","v":1.55},{"d":"28-06-2019","c":"USD","v":1.45},{"d":"30-09-2019","c":"USD","v":1.45},{"d":"31-12-2019","c":"USD","v":1.32},{"d":"31-03-2020","c":"USD","v":0.95},{"d":"30-06-2020","c":"USD","v":-0.07},{"d":"30-09-2020","c":"USD","v":-0.07},{"d":"31-12-2020","c":"USD","v":-0.03},{"d":"31-03-2021","c":"USD","v":-0.02},{"d":"30-06-2021","c":"USD","v":-0.02},{"d":"30-09-2021","c":"USD","v":-0.18},{"d":"31-12-2021","c":"USD","v":-0.14},{"d":"31-03-2022","c":"USD","v":-0.03},{"d":"30-06-2022","c":"USD","v":0.42},{"d":"30-09-2022","c":"USD","v":0.42},{"d":"30-12-2022","c":"USD","v":1.15},{"d":"31-03-2023","c":"USD","v":0.95},{"d":"30-06-2023","c":"USD","v":0.88},{"d":"29-09-2023","c":"USD","v":1.38},{"d":"29-12-2023","c":"USD","v":1.43},{"d":"29-03-2024","c":"USD","v":1.43},{"d":"28-06-2024","c":"USD","v":1.6},{"d":"30-09-2024","c":"USD","v":1.2},{"d":"31-12-2024","c":"USD","v":1.32},{"d":"31-03-2025","c":"USD","v":1.85},{"d":"30-06-2025","c":"USD","v":1.55}
]},
"layer":[
{"mark":{"type":"rect"},
 "encoding":{
  "x":{"field":"d","type":"ordinal",
   "scale":{"domain":["29-03-2002","28-06-2002","30-09-2002","31-12-2002","31-03-2003","30-06-2003","30-09-2003","31-12-2003","31-03-2004","30-06-2004","30-09-2004","31-12-2004","31-03-2005","30-06-2005","30-09-2005","30-12-2005","31-03-2006","30-06-2006","29-09-2006","29-12-2006","30-03-2007","29-06-2007","28-09-2007","31-12-2007","31-03-2008","30-06-2008","30-09-2008","31-12-2008","31-03-2009","30-06-2009","30-09-2009","31-12-2009","31-03-2010","30-06-2010","30-09-2010","31-12-2010","31-03-2011","30-06-2011","30-09-2011","30-12-2011","30-03-2012","29-06-2012","28-09-2012","31-12-2012","29-03-2013","28-06-2013","30-09-2013","31-12-2013","31-03-2014","30-06-2014","30-09-2014","31-12-2014","31-03-2015","30-06-2015","30-09-2015","31-12-2015","31-03-2016","30-06-2016","30-09-2016","30-12-2016","31-03-2017","30-06-2017","29-09-2017","29-12-2017","30-03-2018","29-06-2018","28-09-2018","31-12-2018","29-03-2019","28-06-2019","30-09-2019","31-12-2019","31-03-2020","30-06-2020","30-09-2020","31-12-2020","31-03-2021","30-06-2021","30-09-2021","31-12-2021","31-03-2022","30-06-2022","30-09-2022","30-12-2022","31-03-2023","30-06-2023","29-09-2023","29-12-2023","29-03-2024","28-06-2024","30-09-2024","31-12-2024","31-03-2025","30-06-2025"],"paddingInner":0,"paddingOuter":0},
   "axis":{"values":["29-03-2002","30-09-2002","31-03-2003","30-09-2003","31-03-2004","30-09-2004","31-03-2005","30-09-2005","31-03-2006","29-09-2006","30-03-2007","28-09-2007","31-03-2008","30-09-2008","31-03-2009","30-09-2009","31-03-2010","30-09-2010","31-03-2011","30-09-2011","30-03-2012","28-09-2012","29-03-2013","30-09-2013","31-03-2014","30-09-2014","31-03-2015","30-09-2015","31-03-2016","30-09-2016","31-03-2017","29-09-2017","30-03-2018","28-09-2018","29-03-2019","30-09-2019","31-03-2020","30-09-2020","31-03-2021","30-09-2021","31-03-2022","30-09-2022","31-03-2023","29-09-2023","29-03-2024","30-09-2024","31-03-2025"],
    "title":null,"labelAngle":-90,"labelAlign":"right","labelBaseline":"middle","labelFontSize":16,"labelColor":"#262626","labelFont":"Liberation Sans","labelPadding":16,"labelOverlap":false,"ticks":false,"domain":false,"grid":true,"gridColor":"#cccccc","gridWidth":1.2,"bandPosition":0.5}},
  "y":{"field":"c","type":"nominal","scale":{"paddingInner":0,"paddingOuter":0},
   "axis":{"title":null,"labelFontSize":16,"labelColor":"#262626","labelFont":"Liberation Sans","labelPadding":14.5,"ticks":false,"domain":false,"grid":true,"gridColor":"#cccccc","gridWidth":1.2,"bandPosition":0.5}},
  "color":{"field":"v","type":"quantitative",
   "scale":{"domain":[-2,-1.5,-1,-0.5,0,0.5,1,1.5,2],"range":["#a9373b","#bd6466","#cf8c8d","#e1bdbd","#f3f1f1","#c6cee1","#98adcf","#5f8bc6","#2369bd"]},
   "legend":{"orient":"none","legendX":1053.6,"legendY":0,"direction":"vertical","gradientLength":231,"gradientThickness":12,"gradientStrokeWidth":0,"title":null,"labelExpr":"''","padding":0}}
 }},
{"mark":{"type":"point","opacity":0},
 "encoding":{
  "x":{"field":"d","type":"ordinal"},
  "y":{"field":"v","type":"quantitative","scale":{"domain":[-2,2],"nice":false,"zero":false},
   "axis":{"orient":"right","offset":73.4,"values":[-2,-1,0,1,2],"format":"d","title":null,"domain":false,"grid":false,"tickSize":7,"tickWidth":1.3,"tickColor":"#3c3c3c","labelFontSize":16,"labelColor":"#262626","labelFont":"Liberation Sans","labelPadding":5}}
 }}
],
"resolve":{"scale":{"y":"independent"}}
}
